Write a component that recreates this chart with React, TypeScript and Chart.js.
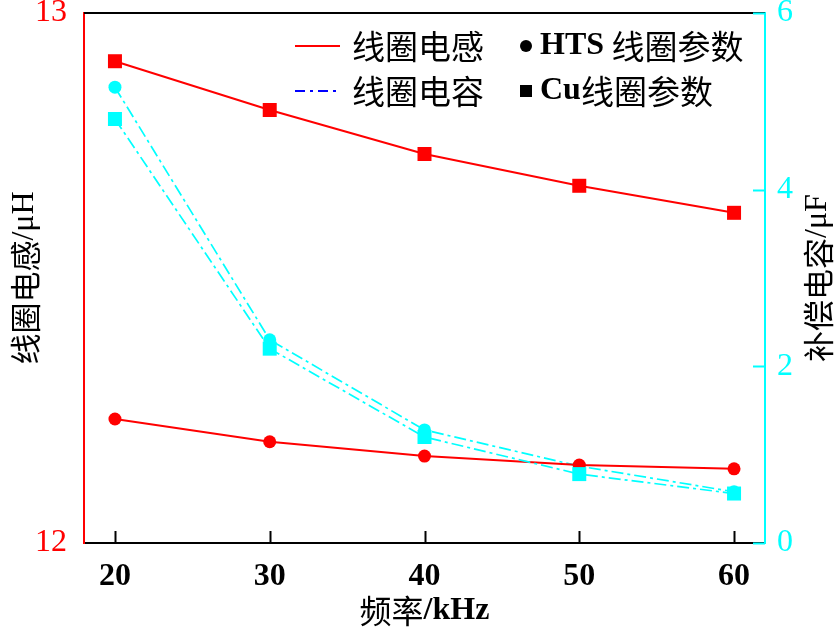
import React, { useEffect, useRef } from "react";
import { Chart, registerables } from "chart.js";

Chart.register(...registerables);

const frequencies = [20, 30, 40, 50, 60];
const htsInductance = [12.234, 12.191, 12.164, 12.147, 12.14];
const cuInductance = [12.909, 12.817, 12.734, 12.674, 12.623];
const htsCapacitance = [5.16, 2.3, 1.28, 0.87, 0.58];
const cuCapacitance = [4.8, 2.2, 1.2, 0.78, 0.56];

const xTicks = [20, 30, 40, 50, 60];
const leftTicks = [12, 13];
const rightTicks = [0, 2, 4, 6];

const xTitle = "频率/kHz";
const leftTitle = "线圈电感/μH";
const rightTitle = "补偿电容/μF";
const legendInductance = "线圈电感";
const legendCapacitance = "线圈电容";
const legendHts = ["HTS", " 线圈参数"];
const legendCu = ["Cu", "线圈参数"];

const RED = "#FF0000";
const CYAN = "#00FFFF";
const SERIF = "'Liberation Serif', 'Times New Roman', serif";
const CJK = "'Noto Sans CJK SC', sans-serif";

type Run = [string, string];

function drawRuns(ctx: CanvasRenderingContext2D, runs: Run[], x: number, y: number, align: "left" | "center") {
  let total = 0;
  const widths = runs.map(([t, f]) => {
    ctx.font = f;
    const w = ctx.measureText(t).width;
    total += w;
    return w;
  });
  let cx = align === "center" ? x - total / 2 : x;
  ctx.textAlign = "left";
  ctx.textBaseline = "middle";
  runs.forEach(([t, f], i) => {
    ctx.font = f;
    ctx.fillText(t, cx, y);
    cx += widths[i];
  });
}

const splitRuns = (s: string, latinFont: string, cjkFont: string): Run[] => {
  const runs: Run[] = [];
  for (const ch of s) {
    const isCjk = /[\u3000-\u9fff]/.test(ch);
    const f = isCjk ? cjkFont : latinFont;
    if (runs.length && runs[runs.length - 1][1] === f) runs[runs.length - 1][0] += ch;
    else runs.push([ch, f]);
  }
  return runs;
};

const decorPlugin = {
  id: "decor",
  afterDraw(chart: any) {
    const ctx: CanvasRenderingContext2D = chart.ctx;
    const { left, right, top, bottom } = chart.chartArea;
    const xs = chart.scales.x;
    const yr = chart.scales.yR;
    ctx.save();
    // top border
    ctx.strokeStyle = "#000";
    ctx.lineWidth = 2;
    ctx.beginPath();
    ctx.moveTo(left, top);
    ctx.lineTo(right, top);
    ctx.stroke();
    // inward x ticks
    xTicks.forEach((v) => {
      const px = Math.round(xs.getPixelForValue(v)) + 0.5;
      ctx.beginPath();
      ctx.moveTo(px, bottom);
      ctx.lineTo(px, bottom - 12);
      ctx.stroke();
    });
    // inward right ticks
    ctx.strokeStyle = CYAN;
    rightTicks.forEach((v) => {
      const py = Math.round(yr.getPixelForValue(v)) + 0.5;
      ctx.beginPath();
      ctx.moveTo(right, py);
      ctx.lineTo(right - 12, py);
      ctx.stroke();
    });

    ctx.fillStyle = "#000";
    // x title
    drawRuns(ctx, splitRuns(xTitle, "bold 32px " + SERIF, "32px " + CJK), (left + right) / 2, 611, "center");
    // left title
    ctx.save();
    ctx.translate(25, (top + bottom) / 2);
    ctx.rotate(-Math.PI / 2);
    drawRuns(ctx, splitRuns(leftTitle, "32px " + SERIF, "31px " + CJK), 0, 0, "center");
    ctx.restore();
    // right title
    ctx.save();
    ctx.translate(818, (top + bottom) / 2);
    ctx.rotate(-Math.PI / 2);
    drawRuns(ctx, splitRuns(rightTitle, "32px " + SERIF, "31px " + CJK), 0, 0, "center");
    ctx.restore();

    // legend
    const r1 = 46;
    const r2 = 91;
    ctx.lineWidth = 2;
    ctx.strokeStyle = RED;
    ctx.beginPath();
    ctx.moveTo(295, r1);
    ctx.lineTo(340, r1);
    ctx.stroke();
    ctx.strokeStyle = "#0000FF";
    ctx.setLineDash([10, 5, 3, 5]);
    ctx.beginPath();
    ctx.moveTo(295, r2);
    ctx.lineTo(340, r2);
    ctx.stroke();
    ctx.setLineDash([]);
    ctx.fillStyle = "#000";
    drawRuns(ctx, [[legendInductance, "33px " + CJK]], 352, r1, "left");
    drawRuns(ctx, [[legendCapacitance, "33px " + CJK]], 352, r2, "left");
    ctx.beginPath();
    ctx.arc(526, r1, 6, 0, Math.PI * 2);
    ctx.fill();
    ctx.fillRect(520, r2 - 6, 12, 12);
    drawRuns(ctx, [[legendHts[0], "bold 32px " + SERIF], [legendHts[1], "33px " + CJK]], 540, r1, "left");
    drawRuns(ctx, [[legendCu[0], "bold 32px " + SERIF], [legendCu[1], "33px " + CJK]], 540, r2, "left");
    ctx.restore();
  },
};

export default function App() {
  const ref = useRef<HTMLCanvasElement>(null);
  useEffect(() => {
    if (!ref.current) return;
    const dash = [12, 4, 3, 4];
    const chart = new Chart(ref.current, {
      type: "line",
      data: {
        datasets: [
          {
            label: "Cu 线圈电感",
            data: frequencies.map((f, i) => ({ x: f, y: cuInductance[i] })),
            yAxisID: "yL",
            borderColor: RED,
            backgroundColor: RED,
            borderWidth: 2,
            pointStyle: "rect",
            pointRadius: 9.9,
            pointBorderWidth: 0,
            order: 1,
          },
          {
            label: "Cu 线圈电容",
            data: frequencies.map((f, i) => ({ x: f, y: cuCapacitance[i] })),
            yAxisID: "yR",
            borderColor: CYAN,
            backgroundColor: CYAN,
            borderWidth: 1.7,
            borderDash: dash,
            pointStyle: "rect",
            pointRadius: 9.9,
            pointBorderWidth: 0,
            order: 2,
          },
          {
            label: "HTS 线圈电感",
            data: frequencies.map((f, i) => ({ x: f, y: htsInductance[i] })),
            yAxisID: "yL",
            borderColor: RED,
            backgroundColor: RED,
            borderWidth: 2,
            pointStyle: "circle",
            pointRadius: 6.5,
            pointBorderWidth: 0,
            order: 3,
          },
          {
            label: "HTS 线圈电容",
            data: frequencies.map((f, i) => ({ x: f, y: htsCapacitance[i] })),
            yAxisID: "yR",
            borderColor: CYAN,
            backgroundColor: CYAN,
            borderWidth: 1.7,
            borderDash: dash,
            pointStyle: "circle",
            pointRadius: 6.5,
            pointBorderWidth: 0,
            order: 4,
          },
        ],
      },
      options: {
        responsive: false,
        animation: false,
        devicePixelRatio: 1,
        layout: { padding: { top: 13, left: 0, right: 0, bottom: 0 } },
        plugins: { legend: { display: false }, tooltip: { enabled: false } },
        scales: {
          x: {
            type: "linear",
            min: 18,
            max: 62,
            afterBuildTicks: (s: any) => {
              s.ticks = xTicks.map((v) => ({ value: v }));
            },
            afterFit: (s: any) => {
              s.height = 91;
              s.paddingLeft = 0;
              s.paddingRight = 0;
            },
            grid: { display: false },
            border: { display: true, color: "#000", width: 2 },
            ticks: {
              color: "#000",
              font: { family: SERIF, size: 32, weight: "bold" },
              padding: 7,
              maxRotation: 0,
            },
          },
          yL: {
            type: "linear",
            position: "left",
            min: 12,
            max: 13,
            afterBuildTicks: (s: any) => {
              s.ticks = leftTicks.map((v) => ({ value: v }));
            },
            afterFit: (s: any) => {
              s.width = 84;
              s.paddingTop = 0;
              s.paddingBottom = 0;
            },
            grid: { display: false },
            border: { display: true, color: RED, width: 2 },
            ticks: {
              color: RED,
              font: { family: SERIF, size: 32 },
              padding: 9,
            },
          },
          yR: {
            type: "linear",
            position: "right",
            min: 0,
            max: 6,
            afterBuildTicks: (s: any) => {
              s.ticks = rightTicks.map((v) => ({ value: v }));
            },
            afterFit: (s: any) => {
              s.width = 75;
              s.paddingTop = 0;
              s.paddingBottom = 0;
            },
            grid: { display: false },
            border: { display: true, color: CYAN, width: 2 },
            ticks: {
              color: CYAN,
              font: { family: SERIF, size: 32 },
              padding: 4,
            },
          },
        },
      },
      plugins: [decorPlugin],
    } as any);
    return () => chart.destroy();
  }, []);
  return (
    <div style={{ position: "fixed", left: 0, top: 0, width: 840, height: 634, background: "#fff" }}>
      <canvas ref={ref} width={840} height={634} style={{ display: "block" }} />
    </div>
  );
}
